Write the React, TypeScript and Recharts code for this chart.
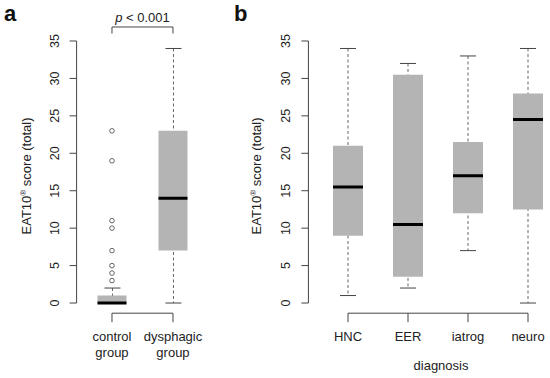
import React from "react";
import {
  ComposedChart,
  Bar,
  Scatter,
  XAxis,
  YAxis,
  ReferenceLine,
  Label,
} from "recharts";

// panel a
const labelsA = [["control", "group"], ["dysphagic", "group"]];
const minA = [0, 0];
const q1A = [0, 7];
const medA = [0, 14];
const q3A = [1, 23];
const maxA = [2, 34];
const outliersControl = [3, 4, 5, 7, 10, 11, 19, 23];

// panel b
const labelsB = [["HNC"], ["EER"], ["iatrog"], ["neuro"]];
const minB = [1, 2, 7, 0];
const q1B = [9, 3.5, 12, 12.5];
const medB = [15.5, 10.5, 17, 24.5];
const q3B = [21, 30.5, 21.5, 28];
const maxB = [34, 32, 33, 34];

const yTicks = [0, 5, 10, 15, 20, 25, 30, 35];
const Y_LO = -1.36;
const Y_HI = 35.36;

const FONT = "'Liberation Sans', Arial, Helvetica, sans-serif";
const AXIS = "#444";
const BOX = "#b4b4b4";
const WHISK = "#666";

const buildRows = (mins: number[], q1s: number[], meds: number[], q3s: number[], maxs: number[]) =>
  mins.map((m, i) => ({
    x: i + 1,
    whisker: [m, maxs[i]],
    box: [q1s[i], q3s[i]],
    median: meds[i],
  }));

const WhiskerShape = (props: any) => {
  const { x, y, width, height } = props;
  const cx = x + width / 2;
  return (
    <g>
      <line x1={cx} x2={cx} y1={y} y2={y + height} stroke={WHISK} strokeDasharray="3 2.5" />
      <line x1={x} x2={x + width} y1={y} y2={y} stroke={AXIS} />
      <line x1={x} x2={x + width} y1={y + height} y2={y + height} stroke={AXIS} />
    </g>
  );
};

const YTick = ({ x, y, payload }: any) => (
  <text
    x={x}
    y={y}
    transform={`rotate(-90 ${x} ${y})`}
    textAnchor="middle"
    fontSize={12.5}
    fontFamily={FONT}
    fill="#222"
  >
    {payload.value}
  </text>
);

const YLabel = ({ viewBox }: any) => {
  const x = viewBox.x + 31;
  const y = 176;
  return (
    <text
      x={x}
      y={y}
      transform={`rotate(-90 ${x} ${y})`}
      textAnchor="middle"
      fontSize={13}
      fontFamily={FONT}
      fill="#222"
    >
      EAT10
      <tspan fontSize={8} dy={-5}>®</tspan>
      <tspan dy={5}> score (total)</tspan>
    </text>
  );
};

interface PanelProps {
  left: number;
  width: number;
  yAxisWidth: number;
  xDomain: [number, number];
  unitPx: number;
  labels: string[][];
  rows: any[];
  boxWidth: number;
  outliers?: { x: number; y: number }[];
  xTitle?: string;
  pText?: boolean;
}

const PLOT_BOTTOM = 313.2;

function BoxPanel({ left, width, yAxisWidth, xDomain, unitPx, labels, rows, boxWidth, outliers, xTitle, pText }: PanelProps) {
  const n = labels.length;
  const xTicks = labels.map((_, i) => i + 1);

  const XTick = ({ x, payload }: any) => {
    const lines = labels[payload.value - 1] || [];
    return (
      <g>
        <line x1={x} x2={x} y1={PLOT_BOTTOM} y2={PLOT_BOTTOM + 9} stroke={AXIS} />
        <text x={x} y={PLOT_BOTTOM + 28} textAnchor="middle" fontSize={13} fontFamily={FONT} fill="#222">
          {lines.map((l, i) => (
            <tspan key={l} x={x} dy={i === 0 ? 0 : 16}>
              {l}
            </tspan>
          ))}
        </text>
      </g>
    );
  };

  const XTitle = ({ viewBox }: any) => (
    <text
      x={viewBox.x + viewBox.width / 2 + 3}
      y={PLOT_BOTTOM + 57}
      textAnchor="middle"
      fontSize={13}
      fontFamily={FONT}
      fill="#222"
    >
      {xTitle}
    </text>
  );

  const PLabel = ({ viewBox }: any) => (
    <text
      x={viewBox.x + viewBox.width / 2}
      y={viewBox.y - 5}
      textAnchor="middle"
      fontSize={13}
      fontFamily={FONT}
      fill="#222"
    >
      <tspan fontStyle="italic">p</tspan> {"< 0.001"}
    </text>
  );

  return (
    <div style={{ position: "absolute", left, top: 0 }}>
      <ComposedChart
        width={width}
        height={378}
        data={rows}
        margin={{ top: 38.3, right: width - yAxisWidth - (xDomain[1] - xDomain[0]) * unitPx, left: 0, bottom: 4.8 }}
      >
        <XAxis xAxisId="w" type="number" dataKey="x" domain={xDomain} allowDataOverflow hide height={0} />
        <XAxis xAxisId="bx" type="number" dataKey="x" domain={xDomain} allowDataOverflow hide height={0} />
        <XAxis
          xAxisId="main"
          type="number"
          dataKey="x"
          domain={xDomain}
          ticks={xTicks}
          interval={0}
          allowDataOverflow
          axisLine={false}
          tickLine={false}
          tick={<XTick />}
          height={60}
        >
          {xTitle && <Label content={<XTitle />} />}
        </XAxis>
        <YAxis
          type="number"
          domain={[Y_LO, Y_HI]}
          ticks={yTicks}
          interval={0}
          allowDataOverflow
          axisLine={false}
          tickLine={{ stroke: AXIS }}
          tickSize={7}
          tickMargin={11}
          tick={<YTick />}
          width={yAxisWidth}
        >
          <Label content={<YLabel />} />
        </YAxis>

        <ReferenceLine
          xAxisId="main"
          segment={[{ x: xDomain[0], y: 0 }, { x: xDomain[0], y: 35 }]}
          stroke={AXIS}
          ifOverflow="visible"
        />
        <ReferenceLine
          xAxisId="main"
          segment={[{ x: 1, y: Y_LO }, { x: n, y: Y_LO }]}
          stroke={AXIS}
          ifOverflow="visible"
        />

        {pText && (
          <ReferenceLine
            xAxisId="main"
            segment={[{ x: 1, y: 36.87 }, { x: 2, y: 36.87 }]}
            stroke={AXIS}
            ifOverflow="visible"
            label={<Label content={<PLabel />} />}
          />
        )}
        {pText && (
          <ReferenceLine
            xAxisId="main"
            segment={[{ x: 1, y: 36.87 }, { x: 1, y: 36.0 }]}
            stroke={AXIS}
            ifOverflow="visible"
          />
        )}
        {pText && (
          <ReferenceLine
            xAxisId="main"
            segment={[{ x: 2, y: 36.87 }, { x: 2, y: 36.0 }]}
            stroke={AXIS}
            ifOverflow="visible"
          />
        )}

        <Bar xAxisId="w" dataKey="whisker" barSize={16} shape={<WhiskerShape />} isAnimationActive={false} />
        <Bar xAxisId="bx" dataKey="box" barSize={boxWidth} fill={BOX} isAnimationActive={false} />
        <Scatter
          xAxisId="main"
          dataKey="median"
          isAnimationActive={false}
          shape={(p: any) => (
            <line x1={p.cx - boxWidth / 2} x2={p.cx + boxWidth / 2} y1={p.cy} y2={p.cy} stroke="#000" strokeWidth={3} />
          )}
        />
        {outliers && (
          <Scatter
            xAxisId="main"
            data={outliers}
            dataKey="y"
            isAnimationActive={false}
            shape={(p: any) => <circle cx={p.cx} cy={p.cy} r={2.3} fill="none" stroke={WHISK} />}
          />
        )}
      </ComposedChart>
    </div>
  );
}

const rowsA = buildRows(minA, q1A, medA, q3A, maxA);
const rowsB = buildRows(minB, q1B, medB, q3B, maxB);
const outlierPts = outliersControl.map((v) => ({ x: 1, y: v }));

const panelLetter: React.CSSProperties = {
  position: "absolute",
  top: 3,
  fontSize: 22,
  lineHeight: "22px",
  fontWeight: "bold",
  color: "#111",
};

export default function App() {
  return (
    <div
      style={{
        position: "fixed",
        left: 0,
        top: 0,
        width: 550,
        height: 378,
        overflow: "hidden",
        background: "#fff",
        fontFamily: FONT,
      }}
    >
      <BoxPanel
        left={0}
        width={230}
        yAxisWidth={76.6}
        xDomain={[0.42, 2.58]}
        unitPx={61}
        labels={labelsA}
        rows={rowsA}
        boxWidth={29}
        outliers={outlierPts}
        pText
      />
      <BoxPanel
        left={230}
        width={340}
        yAxisWidth={78.4}
        xDomain={[0.34, 4.66]}
        unitPx={60}
        labels={labelsB}
        rows={rowsB}
        boxWidth={30}
        xTitle="diagnosis"
      />
      <div style={{ ...panelLetter, left: 4 }}>a</div>
      <div style={{ ...panelLetter, left: 234 }}>b</div>
    </div>
  );
}
